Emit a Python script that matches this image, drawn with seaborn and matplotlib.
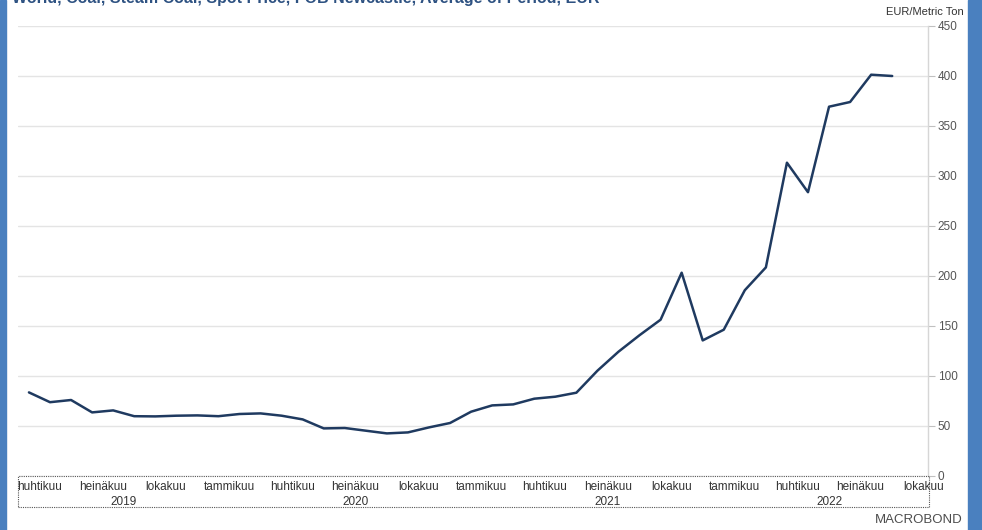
"""
Steam coal spot price (FOB Newcastle), monthly average in EUR per metric ton.
Macrobond-style line chart with Finnish month labels.
"""

import matplotlib.pyplot as plt
import pandas as pd
import seaborn as sns
from matplotlib.patches import Rectangle

TITLE = "World, Coal, Steam Coal, Spot Price, FOB Newcastle, Average of Period, EUR"
UNIT_LABEL = "EUR/Metric Ton"

# monthly values, huhtikuu 2019 .. syyskuu 2022
prices = [
    83.3, 73.5, 75.7, 63.3, 65.3, 59.5, 59.3, 60.0, 60.3,
    59.5, 61.7, 62.3, 60.0, 56.3, 47.3, 47.7, 45.0, 42.3, 43.3, 48.3, 52.7,
    64.0, 70.3, 71.3, 77.0, 79.0, 83.0, 105.0, 124.0, 140.5, 156.0, 203.0, 135.3,
    146.0, 185.5, 208.3, 313.0, 283.5, 369.0, 373.7, 401.0, 399.7,
]
quarter_labels = [
    "huhtikuu", "heinäkuu", "lokakuu",
    "tammikuu", "huhtikuu", "heinäkuu", "lokakuu",
    "tammikuu", "huhtikuu", "heinäkuu", "lokakuu",
    "tammikuu", "huhtikuu", "heinäkuu", "lokakuu",
]
year_labels = ["2019", "2020", "2021", "2022"]
y_ticks = [0, 50, 100, 150, 200, 250, 300, 350, 400, 450]

W, H = 982, 530
LINE_COLOR = "#1f3a60"
BORDER_BLUE = "#4a80bf"


def main():
    sns.set_style("white")
    plt.rcParams["font.family"] = ["Liberation Sans", "DejaVu Sans"]

    fig = plt.figure(figsize=(W / 100, H / 100), dpi=100)
    ax = fig.add_axes([18 / W, 1 - 475.7 / H, (928 - 18) / W, (475.7 - 25.7) / H])

    # ── Line ───────────────────────────────────────────────────
    df = pd.DataFrame({"month": range(len(prices)), "price": prices})
    sns.lineplot(data=df, x="month", y="price", ax=ax,
                 color=LINE_COLOR, linewidth=1.8)

    ax.set_xlim(-0.52, 42.7)
    ax.set_ylim(0, 450)
    ax.set_xlabel("")
    ax.set_ylabel("")

    # ── Y axis on the right ────────────────────────────────────
    ax.set_yticks(y_ticks)
    ax.yaxis.tick_right()
    ax.grid(axis="y", color="#e4e4e4", linewidth=1)
    ax.set_axisbelow(True)
    for side in ["left", "top", "bottom"]:
        ax.spines[side].set_visible(False)
    ax.spines["right"].set_color("#d6d6d6")
    ax.spines["right"].set_linewidth(1)
    ax.tick_params(axis="y", length=5, width=0.8, color="#c0c0c0",
                   labelsize=8.5, labelcolor="#555555", pad=2)

    # ── X axis: months + years ────────────────────────────────
    ax.set_xticks([i * 3 + 0.5 for i in range(len(quarter_labels))], quarter_labels)
    ax.set_xticks([9.5, 21.5, 33.5], minor=True)
    ax.tick_params(axis="x", which="major", length=2, width=0.7, color="#555555",
                   labelsize=8.5, labelcolor="#333333", pad=2)
    ax.tick_params(axis="x", which="minor", length=5, width=0.7, color="#555555")

    for pos, label in zip([4.5, 15.5, 27.5, 38.0], year_labels):
        ax.text(pos, -0.058, label, transform=ax.get_xaxis_transform(),
                ha="center", va="center", fontsize=8.5, color="#333333")

    fig.add_artist(Rectangle((18 / W, 1 - 507 / H), (929 - 18) / W, (507 - 476) / H,
                             transform=fig.transFigure, fill=False,
                             linestyle=(0, (1, 1)), linewidth=0.8,
                             edgecolor="#555555", zorder=5))

    # ── Texts ──────────────────────────────────────────────────
    # the title sits mostly above the top edge, as in the source screenshot
    fig.text(12 / W, 1 - 2.5 / H, TITLE, ha="left", va="baseline",
             fontsize=11.5, fontweight="bold", color="#2e5282")
    fig.text(886 / W, 1 - 12 / H, UNIT_LABEL, ha="left", va="center",
             fontsize=8, color="#333333")
    fig.text(919 / W, 1 - 520 / H, "MACROBOND", ha="center", va="center",
             fontsize=9.5, color="#4d4d4d")

    # ── Blue frame edges ───────────────────────────────────────
    fig.add_artist(Rectangle((0, 0), 6 / W, 1, transform=fig.transFigure,
                             color=BORDER_BLUE, zorder=10))
    fig.add_artist(Rectangle((968 / W, 0), 14 / W, 1, transform=fig.transFigure,
                             color=BORDER_BLUE, zorder=10))

    fig.savefig("out.png", dpi=100)
    plt.close(fig)


if __name__ == "__main__":
    main()
